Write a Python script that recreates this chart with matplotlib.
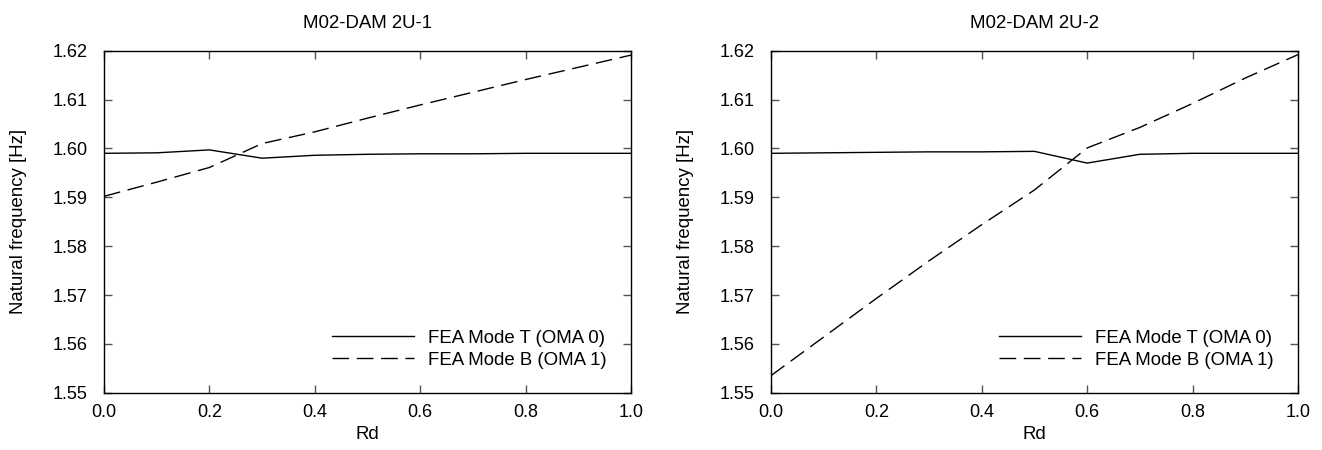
import numpy as np
import matplotlib
matplotlib.use('Agg')
import matplotlib.pyplot as plt
from matplotlib.ticker import FormatStrFormatter

plt.rcParams['font.family'] = ['Liberation Sans', 'DejaVu Sans']

rd = [0.0, 0.1, 0.2, 0.3, 0.4, 0.5, 0.6, 0.7, 0.8, 0.9, 1.0]

# M02-DAM 2U-1
mode_t_1 = [1.5990, 1.5991, 1.5997, 1.5980, 1.5986, 1.5988, 1.5989, 1.5989, 1.5990, 1.5990, 1.5990]
mode_b_1 = [1.5902, 1.5931, 1.5961, 1.6010, 1.6034, 1.6062, 1.6089, 1.6115, 1.6141, 1.6166, 1.6191]

# M02-DAM 2U-2
mode_t_2 = [1.5990, 1.5991, 1.5992, 1.5993, 1.5993, 1.5994, 1.5970, 1.5988, 1.5990, 1.5990, 1.5990]
mode_b_2 = [1.5535, 1.5614, 1.5693, 1.5770, 1.5844, 1.5915, 1.6001, 1.6043, 1.6092, 1.6144, 1.6192]

titles = ['M02-DAM 2U-1', 'M02-DAM 2U-2']
labels = ['FEA Mode T (OMA 0)', 'FEA Mode B (OMA 1)']

fig, axes = plt.subplots(1, 2, figsize=(13.22, 4.5), dpi=100)
fig.subplots_adjust(left=0.0787, right=0.9818, bottom=0.1273, top=0.8873, wspace=0.2657)

for ax, title, t, b in zip(axes, titles, [mode_t_1, mode_t_2], [mode_b_1, mode_b_2]):
    ax.plot(rd, t, color='black', lw=1.0, label=labels[0])
    ax.plot(rd, b, color='black', lw=1.0, ls=(0, (12, 5.5)), label=labels[1])
    ax.set_xlim(0, 1)
    ax.set_ylim(1.55, 1.62)
    ax.set_xticks(np.arange(0, 1.01, 0.2))
    ax.set_yticks(np.arange(1.55, 1.6201, 0.01))
    ax.xaxis.set_major_formatter(FormatStrFormatter('%.1f'))
    ax.yaxis.set_major_formatter(FormatStrFormatter('%.2f'))
    ax.tick_params(direction='in', top=True, right=True, length=6, width=1,
                   color='#555555', labelsize=13)
    ax.tick_params(axis='x', pad=8)
    ax.tick_params(axis='y', pad=12)
    for s in ax.spines.values():
        s.set_linewidth(1.0)
    ax.set_title(title, fontsize=13.4, pad=16)
    ax.set_xlabel('Rd', fontsize=13.4, labelpad=4)
    ax.set_ylabel('Natural frequency [Hz]', fontsize=13.4, labelpad=18)
    ax.legend(loc='lower right', frameon=False, fontsize=13.4, handlelength=4.4,
              handletextpad=0.78, labelspacing=0.25, borderaxespad=0.9)

plt.savefig('out.png', dpi=100)
